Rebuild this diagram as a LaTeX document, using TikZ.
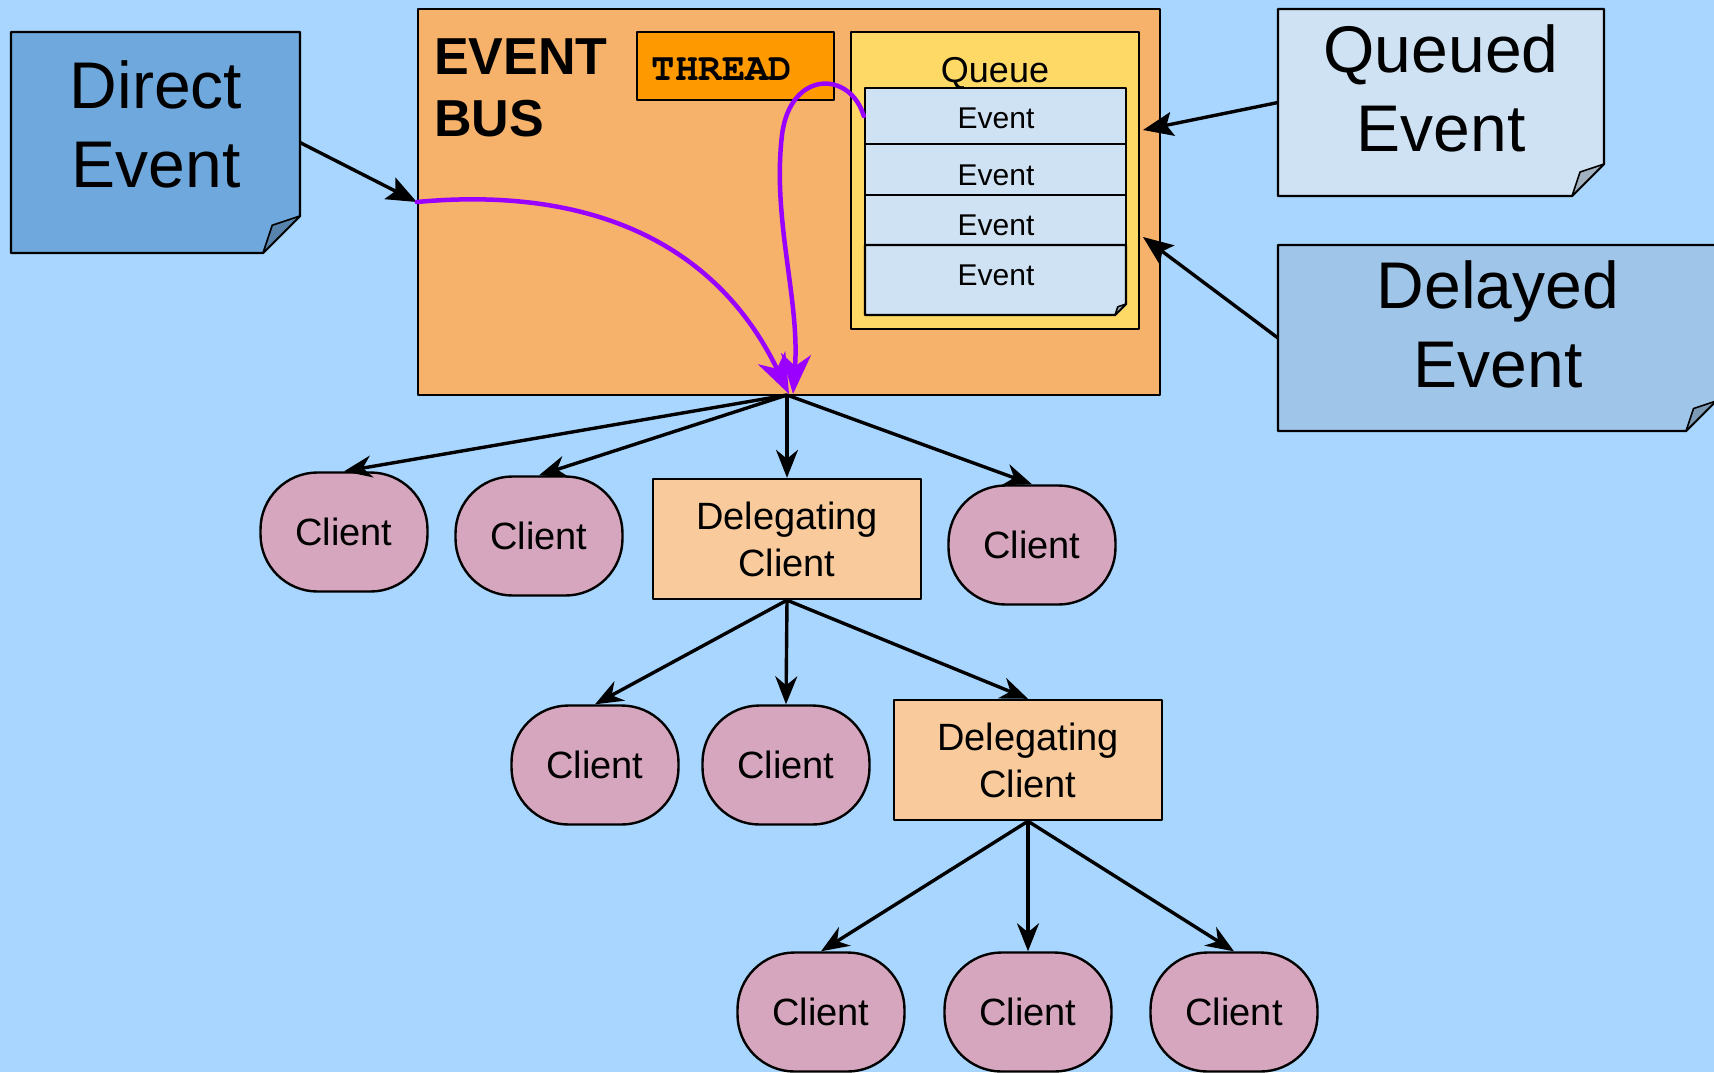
\documentclass[tikz,border=0pt]{standalone}
\usepackage{fontspec}
\setmainfont{Liberation Sans}
\newfontfamily\courierbold{TeX Gyre Cursor}
\usetikzlibrary{arrows.meta}

\definecolor{bgblue}{HTML}{A9D6FE}
\definecolor{busfill}{HTML}{F6B26B}
\definecolor{threadfill}{HTML}{FF9900}
\definecolor{queuefill}{HTML}{FFD966}
\definecolor{rowfill}{HTML}{CFE2F3}
\definecolor{directfill}{HTML}{6FA8DC}
\definecolor{queuedfill}{HTML}{CFE2F3}
\definecolor{delayedfill}{HTML}{9FC5E8}
\definecolor{clientfill}{HTML}{D5A6BD}
\definecolor{delegfill}{HTML}{F9CB9C}
\definecolor{routepurple}{HTML}{9900FF}

% sticky note outline with a folded bottom-right corner:
% #1 node, #2 fold size, #3 note colour
\newcommand\dogear[3]{%
  \filldraw[fill=#3, outline]
    (#1.north west) -- (#1.north east) -- ([yshift=#2]#1.south east)
    -- ([xshift=-#2]#1.south east) -- (#1.south west) -- cycle;
  \filldraw[fill=#3!78!black, outline, line width=1.6pt]
    ([xshift=-#2]#1.south east) -- ([xshift=-0.75*#2, yshift=0.75*#2]#1.south east)
    -- ([yshift=#2]#1.south east) -- cycle;
}

\begin{document}
\begin{tikzpicture}[x=1pt, y=-1pt,
  outline/.style={draw=black, line width=2.4pt, line join=round},
  box/.style={outline, inner sep=0pt},
  ghost/.style={inner sep=0pt, outer sep=0pt},
  client/.style={box, fill=clientfill, rounded corners=57pt,
    minimum width=167pt, minimum height=119pt, font=\fontsize{38}{46}\selectfont},
  delegate/.style={box, fill=delegfill, minimum width=268pt, minimum height=120pt,
    align=center, font=\fontsize{38}{47}\selectfont},
  notetext/.style={align=center, inner sep=0pt, font=\fontsize{66}{79}\selectfont},
  eventtext/.style={anchor=base, inner sep=0pt, font=\fontsize{30}{36}\selectfont},
  titletext/.style={anchor=base west, inner sep=0pt, font=\fontsize{52}{62}\selectfont\bfseries},
  flow/.style={draw=black, line width=3.4pt, -{Stealth[length=28pt, width=22pt, inset=9pt]}},
  feed/.style={draw=black, line width=3.4pt, -{Stealth[length=30pt, width=24pt, inset=6pt]}},
  route/.style={draw=routepurple, line width=4.5pt, line cap=round,
    -{Stealth[length=40pt, width=30pt, inset=12pt]}},
]
% canvas
\fill[bgblue] (0,0) rectangle (1714,1072);
\useasboundingbox (0,0) rectangle (1714,1072);

% event bus with its worker thread and queue
\node[box, fill=busfill, minimum width=742pt, minimum height=386pt] (bus) at (789,202) {};
\node[titletext] (bustitle) at (434,74) {EVENT};
\node[titletext] (bustitle2) at (434,136) {BUS};
\node[box, fill=threadfill, minimum width=197pt, minimum height=68pt] (thread) at (735.5,66) {};
\node[inner sep=0pt, font=\fontsize{39}{44}\courierbold\bfseries] (threadtxt) at (722,69) {THREAD};
\node[box, fill=queuefill, minimum width=288pt, minimum height=297pt] (queue) at (995,180.5) {};
\node[anchor=base, inner sep=0pt, font=\fontsize{36}{42}\selectfont] (queuetxt) at (995,82) {Queue};

% queued events
\node[box, fill=rowfill, minimum width=261pt, minimum height=56pt] (ev1) at (995.5,116) {};
\node[box, fill=rowfill, minimum width=261pt, minimum height=51pt] (ev2) at (995.5,169.5) {};
\node[box, fill=rowfill, minimum width=261pt, minimum height=50pt] (ev3) at (995.5,220) {};
\node[ghost, minimum width=261pt, minimum height=70pt] (ev4) at (995.5,280) {};
\dogear{ev4}{11pt}{rowfill}
\node[eventtext] (ev1txt) at (996,128) {Event};
\node[eventtext] (ev2txt) at (996,185) {Event};
\node[eventtext] (ev3txt) at (996,235) {Event};
\node[eventtext] (ev4txt) at (996,285) {Event};

% incoming event notes
\node[ghost, minimum width=289pt, minimum height=221pt] (directnote) at (155.5,142.5) {};
\dogear{directnote}{37pt}{directfill}
\node[notetext] (directtxt) at (156,124) {Direct\\Event};

\node[ghost, minimum width=326pt, minimum height=187pt] (queuednote) at (1441,102.5) {};
\dogear{queuednote}{32pt}{queuedfill}
\node[notetext] (queuedtxt) at (1441,88) {Queued\\Event};

\node[ghost, minimum width=438pt, minimum height=186pt] (delayednote) at (1497,338) {};
\dogear{delayednote}{30pt}{delayedfill}
\node[notetext] (delayedtxt) at (1498,324) {Delayed\\Event};

% clients
\node[client] (c1) at (344,532) {Client};
\node[client] (c2) at (539,536) {Client};
\node[delegate] (d1) at (787,539) {Delegating\\Client};
\node[client] (c3) at (1032,545) {Client};
\node[client] (c4) at (595,765) {Client};
\node[client] (c5) at (786,765) {Client};
\node[delegate] (d2) at (1028,760) {Delegating\\Client};
\node[client] (c6) at (821,1012) {Client};
\node[client] (c7) at (1028,1012) {Client};
\node[client] (c8) at (1234,1012) {Client};

% dispatch point and arrival points on the bus
\coordinate (hub) at (787,395);
\coordinate (qin) at (1143,130);
\coordinate (din) at (1143,237);
\coordinate (p1end) at (789,394);
\coordinate (p2end) at (793,394);

% event sources
\draw[feed] (directnote.east) -- (bus.west);
\draw[feed] (queuednote.west) -- (qin);
\draw[feed] (delayednote.west) -- (din);

% fan-out to clients
\draw[flow] (hub) -- (c1.north);
\draw[flow] (hub) -- (c2.north);
\draw[flow] (hub) -- (d1.north);
\draw[flow] (hub) -- (c3.north);
\draw[flow] (d1.south) -- (c4.north);
\draw[flow] (d1.south) -- (c5.north);
\draw[flow] (d1.south) -- (d2.north);
\draw[flow] (d2.south) -- (c6.north);
\draw[flow] (d2.south) -- (c7.north);
\draw[flow] (d2.south) -- (c8.north);

% delivery routes through the bus
\draw[route] (bus.west) .. controls (600,185) and (720,250) .. (p1end);
\draw[route] (ev1.west) .. controls (850,70) and (790,70) .. (782,135)
  .. controls (772,220) and (800,300) .. (p2end);
\end{tikzpicture}
\end{document}
